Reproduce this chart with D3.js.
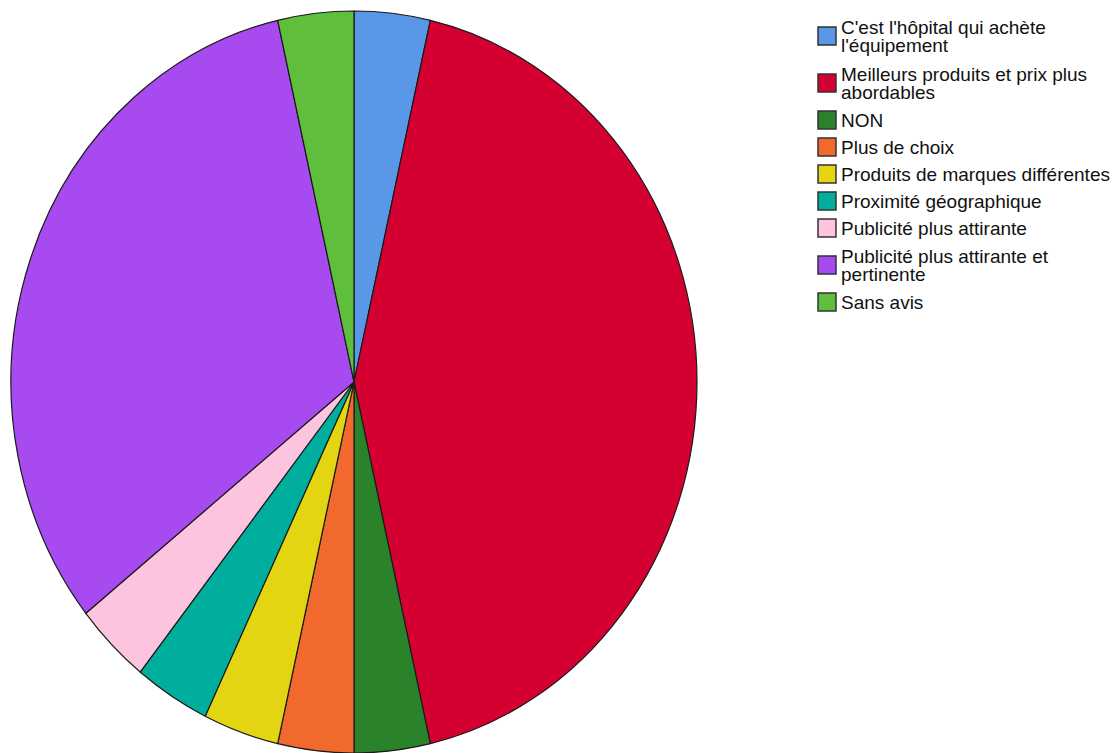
<!DOCTYPE html>
<html>
<head>
<meta charset="utf-8">
<script src="https://cdn.jsdelivr.net/npm/d3@7"></script>
<style>
  html, body { margin: 0; padding: 0; background: #ffffff; }
  svg { display: block; }
  text { font-family: "Liberation Sans", Arial, sans-serif; fill: #111; }
</style>
</head>
<body>
<svg id="chart" width="1120" height="753"></svg>
<script>
// Categories, counts and slice colours
const categories = [
  "C'est l'hôpital qui achète l'équipement",
  "Meilleurs produits et prix plus abordables",
  "NON",
  "Plus de choix",
  "Produits de marques différentes",
  "Proximité géographique",
  "Publicité plus attirante",
  "Publicité plus attirante et pertinente",
  "Sans avis"
];
const counts = [1, 12, 1, 1, 1, 1, 1, 9, 1];
const colors = ["#5898e6", "#d50032", "#2a832a", "#f2692e", "#e3d512",
                "#00ae9e", "#fdc4e0", "#a74bf0", "#5fbf3c"];
// Legend labels as wrapped lines
const legendLines = [
  ["C'est l'hôpital qui achète", "l'équipement"],
  ["Meilleurs produits et prix plus", "abordables"],
  ["NON"],
  ["Plus de choix"],
  ["Produits de marques différentes"],
  ["Proximité géographique"],
  ["Publicité plus attirante"],
  ["Publicité plus attirante et", "pertinente"],
  ["Sans avis"]
];

const svg = d3.select("#chart");

const cx = 354, cy = 382, rx = 343, ry = 371;
const pie = d3.pie().sort(null).value(d => d.v);
const arc = d3.arc().innerRadius(0).outerRadius(rx);
const data = categories.map((c, i) => ({ c, v: counts[i], col: colors[i] }));

const g = svg.append("g")
  .attr("transform", `translate(${cx},${cy}) scale(1,${ry / rx})`);

g.selectAll("path")
  .data(pie(data))
  .join("path")
  .attr("d", arc)
  .attr("fill", d => d.data.col)
  .attr("stroke", "#1a1a1a")
  .attr("stroke-width", 1.2)
  .attr("vector-effect", "non-scaling-stroke")
  .attr("stroke-linejoin", "round");

// Legend: swatch centred on each (possibly wrapped) label
const lg = svg.append("g");
const lineH = 18, pitch = 27, extraPerLine = 20;
let y = 26;
legendLines.forEach((lines, i) => {
  const extra = (lines.length - 1) * extraPerLine;
  const center = y + extra / 2;
  lg.append("rect")
    .attr("x", 818).attr("y", center - 9)
    .attr("width", 18).attr("height", 18)
    .attr("fill", colors[i])
    .attr("stroke", "#333").attr("stroke-width", 1.5);
  const t = lg.append("text")
    .attr("x", 841)
    .attr("font-size", 19);
  const firstBase = center - (lines.length - 1) * lineH / 2 + 7;
  lines.forEach((ln, k) => {
    t.append("tspan").attr("x", 841).attr("y", firstBase + k * lineH).text(ln);
  });
  y += pitch + extra;
});
</script>
</body>
</html>
